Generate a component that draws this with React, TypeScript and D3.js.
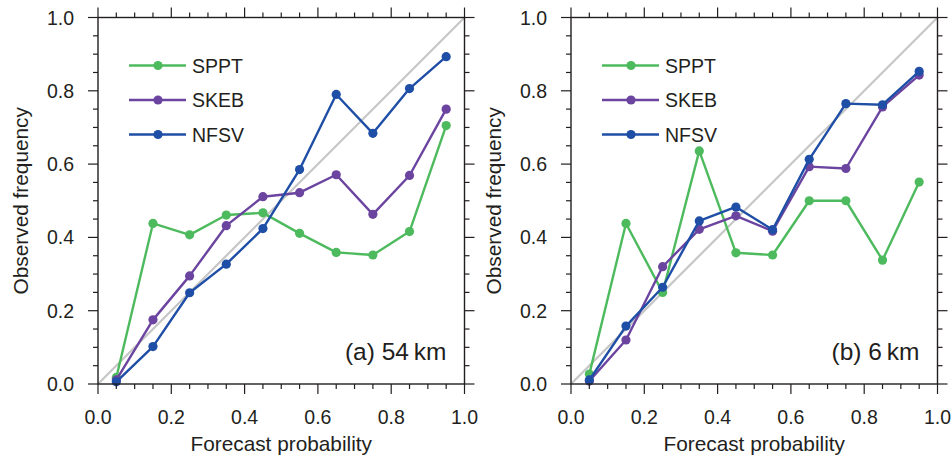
import React from "react";
import * as d3 from "d3";

const probBins = [0.05, 0.15, 0.25, 0.35, 0.45, 0.55, 0.65, 0.75, 0.85, 0.95];
const seriesNames = ["SPPT", "SKEB", "NFSV"];
const seriesColors = ["#4dba5e", "#6b44a0", "#1f4ea6"];

// (a) 54 km
const spptA = [0.018, 0.438, 0.407, 0.461, 0.467, 0.411, 0.359, 0.352, 0.416, 0.705];
const skebA = [0.011, 0.175, 0.295, 0.432, 0.511, 0.522, 0.571, 0.463, 0.569, 0.75];
const nfsvA = [0.006, 0.102, 0.249, 0.327, 0.424, 0.585, 0.79, 0.684, 0.806, 0.893];
// (b) 6 km
const spptB = [0.027, 0.438, 0.25, 0.636, 0.358, 0.352, 0.5, 0.5, 0.338, 0.551];
const skebB = [0.008, 0.12, 0.32, 0.422, 0.459, 0.417, 0.593, 0.588, 0.756, 0.843];
const nfsvB = [0.011, 0.158, 0.264, 0.445, 0.483, 0.421, 0.613, 0.765, 0.762, 0.853];

const panelLabels = ["(a) 54\u2009km", "(b) 6\u2009km"];
const majorTicks = [0, 0.2, 0.4, 0.6, 0.8, 1.0];
const minorTicks = d3.range(0, 1.0001, 0.05);
const xTitle = "Forecast probability";
const yTitle = "Observed frequency";

const W = 951;
const H = 460;
const panelLefts = [98, 571];
const top = 17.5;
const size = 366.5;
const font = "'Liberation Sans', Arial, Helvetica, sans-serif";
const ink = "#231f20";

function Panel({ left, data, label }: { left: number; data: number[][]; label: string }) {
  const x = d3.scaleLinear().domain([0, 1]).range([left, left + size]);
  const y = d3.scaleLinear().domain([0, 1]).range([top + size, top]);
  const line = d3
    .line<number>()
    .x((_, i) => x(probBins[i]))
    .y((d) => y(d));
  const major = 10;
  const minor = 5;
  return (
    <g>
      <line x1={x(0)} y1={y(0)} x2={x(1)} y2={y(1)} stroke="#c6c6c6" strokeWidth={2.2} />
      {data.map((vals, si) => (
        <g key={si}>
          <path d={line(vals) || ""} fill="none" stroke={seriesColors[si]} strokeWidth={2.4} strokeLinejoin="round" />
          {vals.map((v, i) => (
            <circle key={i} cx={x(probBins[i])} cy={y(v)} r={4.6} fill={seriesColors[si]} />
          ))}
        </g>
      ))}
      <rect x={x(0)} y={y(1)} width={size} height={size} fill="none" stroke={ink} strokeWidth={1.4} />
      {minorTicks.map((t, i) => {
        const isMajor = majorTicks.some((m) => Math.abs(m - t) < 1e-6);
        const L = isMajor ? major : minor;
        return (
          <g key={i} stroke={ink} strokeWidth={1.2}>
            <line x1={x(t)} x2={x(t)} y1={y(0)} y2={y(0) + L} />
            <line x1={x(t)} x2={x(t)} y1={y(1)} y2={y(1) - L} />
            <line y1={y(t)} y2={y(t)} x1={x(0)} x2={x(0) - L} />
            <line y1={y(t)} y2={y(t)} x1={x(1)} x2={x(1) + L} />
          </g>
        );
      })}
      {majorTicks.map((t, i) => (
        <g key={i} fontFamily={font} fontSize={19.5} fill={ink}>
          <text x={x(t)} y={y(0) + 39.5} textAnchor="middle">
            {d3.format(".1f")(t)}
          </text>
          <text x={x(0) - 24} y={y(t)} dy="0.36em" textAnchor="end">
            {d3.format(".1f")(t)}
          </text>
        </g>
      ))}
      <text x={(x(0) + x(1)) / 2} y={451} textAnchor="middle" fontFamily={font} fontSize={20.8} fill={ink}>
        {xTitle}
      </text>
      <text
        transform={`translate(${x(0) - 70},${(y(0) + y(1)) / 2}) rotate(-90)`}
        textAnchor="middle"
        fontFamily={font}
        fontSize={20.8}
        fill={ink}
      >
        {yTitle}
      </text>
      {seriesNames.map((name, si) => {
        const ly = 65.5 + si * 34.5;
        const lx = x(0) + 31;
        return (
          <g key={si}>
            <line x1={lx} x2={lx + 57} y1={ly} y2={ly} stroke={seriesColors[si]} strokeWidth={2.4} />
            <circle cx={lx + 29} cy={ly} r={4.6} fill={seriesColors[si]} />
            <text x={lx + 63} y={ly} dy="0.36em" fontFamily={font} fontSize={19.5} fill={ink}>
              {name}
            </text>
          </g>
        );
      })}
      <text x={x(1) - 18} y={y(0) - 24} textAnchor="end" fontFamily={font} fontSize={24.5} fill={ink}>
        {label}
      </text>
    </g>
  );
}

export default function App() {
  return (
    <div style={{ position: "absolute", left: 0, top: 0 }}>
      <svg width={W} height={H} style={{ display: "block", background: "#fff" }}>
        <Panel left={panelLefts[0]} data={[spptA, skebA, nfsvA]} label={panelLabels[0]} />
        <Panel left={panelLefts[1]} data={[spptB, skebB, nfsvB]} label={panelLabels[1]} />
      </svg>
    </div>
  );
}
